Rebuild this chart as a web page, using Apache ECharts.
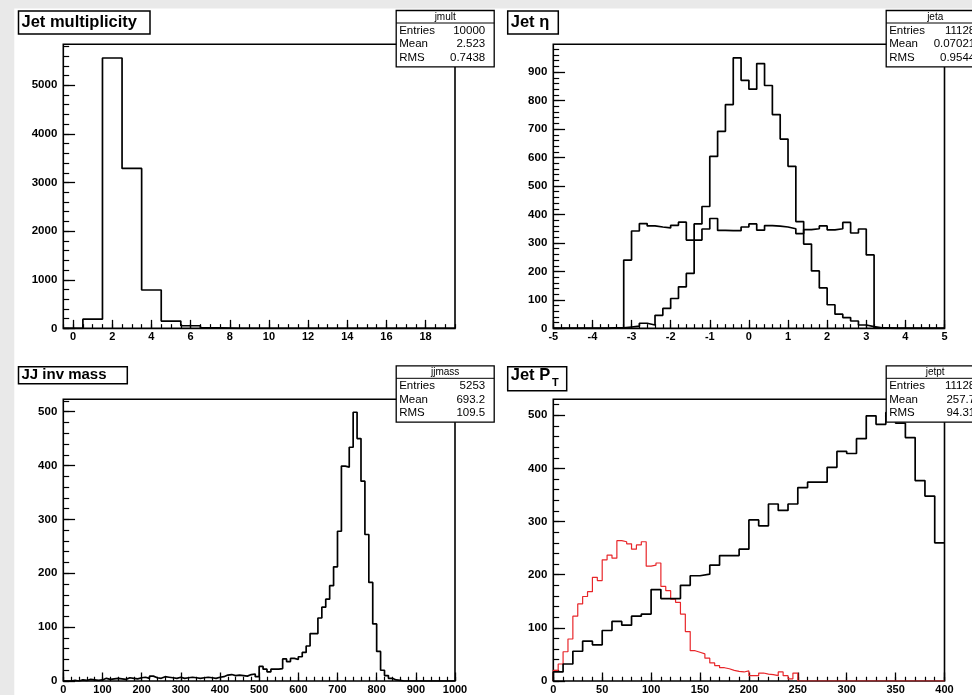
<!DOCTYPE html>
<html><head><meta charset="utf-8">
<script src="https://cdn.jsdelivr.net/npm/echarts@6/dist/echarts.min.js"></script>
<style>html,body{margin:0;padding:0;background:#fff;}#c{width:972px;height:695px;}</style>
</head><body><div id="c"></div>
<script>
// ---------------- data (bin contents) ----------------
// Jet multiplicity: 20 bins of width 1 from -0.5
const multLow = -0.5, multWidth = 1;
const multCounts = [0,190,5560,3290,790,150,55,10,0,0,0,0,0,0,0,0,0,0,0,0];

// Jet eta: 50 bins of width 0.2 from -5
const etaLow = -5, etaWidth = 0.2;
const etaCentral = [0,0,0,0,0,0,0,2,2,5,8,18,12,46,70,105,146,193,367,428,
  604,692,786,950,871,840,930,853,751,665,569,375,296,202,142,83,50,38,26,12,
  6,2,1,0,0,0,0,0,0,0];
const etaFlat = [0,0,0,0,0,0,0,2,3,240,342,368,360,356,353,362,373,310,310,349,
  386,344,343,343,356,367,345,361,359,356,350,333,347,350,360,346,350,372,335,349,
  258,2,1,0,0,0,0,0,0,0];

// JJ invariant mass: 100 bins of width 10 from 0
const massLow = 0, massWidth = 10;
const massCounts = [0,0,1,0,2,1,3,2,1,2, 5,3,4,5,4,3,6,5,4,6, 7,5,9,6,5,8,7,6,5,7,
  5,6,7,6,5,6,7,6,5,7, 8,11,12,10,11,10,9,12,13,8, 27,22,17,22,22,23,41,36,42,40,
  45,53,65,88,88,117,137,152,177,212, 278,399,397,434,499,450,371,272,183,106,
  55,20,10,5,2,1,0,0,0,0, 0,0,0,0,0,0,0,0,0,0];

// Jet PT: black 40 bins of width 10, red 80 bins of width 5, from 0
const ptLow = 0, ptBlackWidth = 10, ptRedWidth = 5;
const ptBlack = [17,32,56,75,68,95,112,105,122,126,172,155,155,180,198,201,218,236,236,248,
  303,292,333,321,333,364,374,374,402,432,428,456,499,483,505,485,458,377,348,260];
const ptRed = [20,32,55,79,122,145,159,168,195,189,228,237,231,264,262,258,248,256,262,216,
  218,222,178,170,154,148,126,93,57,54,51,43,34,29,25,23,20,18,17,19,
  10,10,15,13,12,10,17,10,4,15,0,0,0,0,0,0,0,0,0,0,
  0,0,0,0,0,0,0,0,0,0,0,0,0,0,0,0,0,0,0,0];

// tick labels
const multXTicks = [0,2,4,6,8,10,12,14,16,18];
const multYTicks = [0,1000,2000,3000,4000,5000];
const etaXTicks = [-5,-4,-3,-2,-1,0,1,2,3,4,5];
const etaYTicks = [0,100,200,300,400,500,600,700,800,900];
const massXTicks = [0,100,200,300,400,500,600,700,800,900,1000];
const massYTicks = [0,100,200,300,400,500];
const ptXTicks = [0,50,100,150,200,250,300,350,400];
const ptYTicks = [0,100,200,300,400,500];

// titles and statistics boxes
const titles = ['Jet multiplicity','Jet \u03b7','JJ inv mass','Jet P'];
const statNames = ['jmult','jeta','jjmass','jetpt'];
const statEntries = ['10000','11128','5253','11128'];
const statMean = ['2.523','0.07021','693.2','257.7'];
const statRMS = ['0.7438','0.9544','109.5','94.31'];

// ---------------- helpers ----------------
function stepData(counts, low, width){
  const d = [[low, 0]];
  counts.forEach((c, i) => d.push([low + i*width, c]));
  d.push([low + counts.length*width, counts[counts.length-1]]);
  return d;
}
function minorList(min, max, step){
  const out = [];
  const n = Math.round((max - min)/step);
  for (let k = 0; k <= n + 1; k++){ const v = +(min + k*step).toFixed(6); if (v <= max + 1e-9) out.push(v); }
  return out;
}
const FONT = 'Liberation Sans';
const grids = [
  {left:63.3, top:44.2, width:391.7, height:284.2},
  {left:553.3, top:44.2, width:391.2, height:284.2},
  {left:63.3, top:399.3, width:391.7, height:283.3},
  {left:553.3, top:399.3, width:391.2, height:283.3}
];
const xr = [[-0.5,19.5],[-5,5],[0,1000],[0,400]];
const yr = [[0,5844],[0,998],[0,523],[0,530]];
const xMaj = [multXTicks, etaXTicks, massXTicks, ptXTicks];
const yMaj = [multYTicks, etaYTicks, massYTicks, ptYTicks];
const xMinStep = [0.5, 0.2, 20, 10];
const yMinStep = [200, 20, 20, 20];
const plain = v => String(v);

const xAxis = [], yAxis = [];
grids.forEach((g, i) => {
  const gw = g.width, gh = g.height;
  xAxis.push({type:'value', gridIndex:i, position:'bottom', min:xr[i][0], max:xr[i][1],
    axisLine:{show:false, onZero:false}, splitLine:{show:false},
    axisTick:{show:true, inside:true, length:0.03*gh, customValues:xMaj[i], lineStyle:{color:'#000', width:1.3}},
    axisLabel:{show:true, customValues:xMaj[i], formatter:plain, margin:3, color:'#000', fontFamily:FONT, fontWeight:'bold', fontSize:11}});
  xAxis.push({type:'value', gridIndex:i, position:'bottom', min:xr[i][0], max:xr[i][1],
    axisLine:{show:false, onZero:false}, splitLine:{show:false}, axisLabel:{show:false},
    axisTick:{show:true, inside:true, length:0.015*gh, customValues:minorList(xr[i][0], xr[i][1], xMinStep[i]), lineStyle:{color:'#000', width:1.2}}});
  yAxis.push({type:'value', gridIndex:i, position:'left', min:yr[i][0], max:yr[i][1],
    axisLine:{show:false, onZero:false}, splitLine:{show:false},
    axisTick:{show:true, inside:true, length:0.03*gw, customValues:yMaj[i], lineStyle:{color:'#000', width:1.3}},
    axisLabel:{show:true, customValues:yMaj[i], formatter:plain, margin:6, color:'#000', fontFamily:FONT, fontWeight:'bold', fontSize:11.5}});
  yAxis.push({type:'value', gridIndex:i, position:'left', min:yr[i][0], max:yr[i][1],
    axisLine:{show:false, onZero:false}, splitLine:{show:false}, axisLabel:{show:false},
    axisTick:{show:true, inside:true, length:0.015*gw, customValues:minorList(yr[i][0], yr[i][1], yMinStep[i]), lineStyle:{color:'#000', width:1.2}}});
});

function hist(gi, data, color, w){
  return {type:'line', xAxisIndex:2*gi, yAxisIndex:2*gi, data:data, step:'end',
    showSymbol:false, symbol:'none', animation:false, silent:true, z:3,
    lineStyle:{color:color, width:w}};
}
const series = [
  hist(0, stepData(multCounts, multLow, multWidth), '#000', 1.7),
  hist(1, stepData(etaFlat, etaLow, etaWidth), '#000', 1.7),
  hist(1, stepData(etaCentral, etaLow, etaWidth), '#000', 1.7),
  hist(2, stepData(massCounts, massLow, massWidth), '#000', 1.7),
  hist(3, stepData(ptRed, ptLow, ptRedWidth), '#e8262a', 1.2),
  hist(3, stepData(ptBlack, ptLow, ptBlackWidth), '#000', 1.7)
];

// ---------------- graphic overlays ----------------
const G = [];
G.push({type:'rect', shape:{x:0,y:0,width:972,height:8.5}, style:{fill:'#e9e9e9'}, z:-5, silent:true});
G.push({type:'rect', shape:{x:0,y:0,width:14.3,height:695}, style:{fill:'#e9e9e9'}, z:-5, silent:true});

const titleBoxes = [
  {x:18.5, y:11, w:131.5, h:23, fs:16.5},
  {x:507.7, y:11, w:50.6, h:23, fs:16.5},
  {x:18.5, y:366.7, w:108.8, h:17, fs:15},
  {x:507.7, y:366.7, w:59, h:24, fs:16.5}
];
titleBoxes.forEach((b, i) => {
  G.push({type:'rect', z:50, shape:{x:b.x, y:b.y, width:b.w, height:b.h},
    style:{fill:'#fff', stroke:'#000', lineWidth:1.5}});
  G.push({type:'text', z:51, x:b.x+3, y:b.y+b.h/2+ (i===3 ? -3 : 0),
    style:{text:titles[i], font:'bold '+b.fs+'px "'+FONT+'"', fill:'#000', textVerticalAlign:'middle', textAlign:'left'}});
});
G.push({type:'text', z:51, x:552, y:382.5,
  style:{text:'T', font:'bold 11px "'+FONT+'"', fill:'#000', textVerticalAlign:'middle', textAlign:'left'}});

const statBoxes = [
  {x:396.2, y:10.5, w:98},
  {x:886.2, y:10.5, w:98},
  {x:396.2, y:365.8, w:98},
  {x:886.2, y:365.8, w:98}
];
statBoxes.forEach((b, i) => {
  const h = 56.4;
  G.push({type:'rect', z:60, shape:{x:b.x, y:b.y, width:b.w, height:h},
    style:{fill:'#fff', stroke:'#000', lineWidth:1.3}});
  G.push({type:'line', z:61, shape:{x1:b.x, y1:b.y+12.5, x2:b.x+b.w, y2:b.y+12.5}, style:{stroke:'#000', lineWidth:1}});
  G.push({type:'text', z:62, x:b.x+b.w/2, y:b.y+6.5,
    style:{text:statNames[i], font:'10px "'+FONT+'"', fill:'#000', textAlign:'center', textVerticalAlign:'middle'}});
  const rows = [['Entries', statEntries[i]], ['Mean', statMean[i]], ['RMS', statRMS[i]]];
  rows.forEach((r, k) => {
    const yy = b.y + 20 + k*13.7;
    G.push({type:'text', z:62, x:b.x+3, y:yy,
      style:{text:r[0], font:'11.5px "'+FONT+'"', fill:'#000', textAlign:'left', textVerticalAlign:'middle'}});
    G.push({type:'text', z:62, x:b.x+b.w-9, y:yy,
      style:{text:r[1], font:'11.5px "'+FONT+'"', fill:'#000', textAlign:'right', textVerticalAlign:'middle'}});
  });
});

const chart = echarts.init(document.getElementById('c'), null, {renderer:'canvas'});
chart.setOption({
  backgroundColor:'#fff',
  animation:false,
  grid: grids.map(g => Object.assign({show:true, backgroundColor:'#fff', borderColor:'#000', borderWidth:1.6, containLabel:false}, g)),
  xAxis: xAxis,
  yAxis: yAxis,
  series: series,
  graphic: {elements: G}
});
</script></body></html>
